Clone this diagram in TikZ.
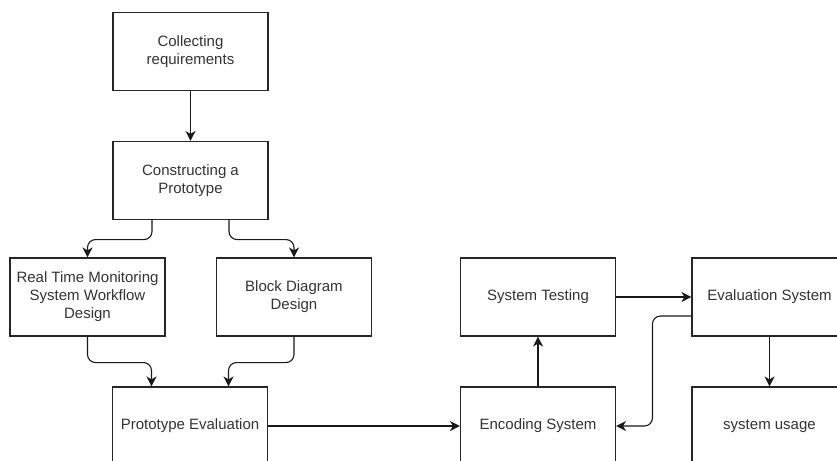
\documentclass[tikz,border=0pt]{standalone}
\usepackage{fontspec}
\setmainfont{Liberation Sans}
\usetikzlibrary{arrows.meta}
\begin{document}
\begin{tikzpicture}[x=1pt,y=-1pt,
  box/.style={draw=black!85,line width=1.1pt,rectangle,minimum width=155pt,minimum height=78pt,
    align=center,text=black!80,font=\fontsize{15}{18}\selectfont,inner sep=2pt},
  arr/.style={draw=black!90,line width=1.1pt,-{Stealth[length=10pt,width=10pt,inset=3pt]}},
  rc/.style={rounded corners=8pt}]
\useasboundingbox (0,0) rectangle (837,460);
\clip (0,0) rectangle (837,460);
\fill[white] (0,0) rectangle (837,460);
\node[box] (coll) at (190.5,51.5) {Collecting\\requirements};
\node[box] (cons) at (190.5,180.5) {Constructing a\\Prototype};
\node[box] (rt) at (87.5,297) {Real Time Monitoring\\System Workflow\\Design};
\node[box] (bd) at (294,297) {Block Diagram\\Design};
\node[box] (pe) at (190,426) {Prototype Evaluation};
\node[box] (st) at (538,297) {System Testing};
\node[box] (es) at (769.5,297) {Evaluation System};
\node[box] (enc) at (538,426) {Encoding System};
\node[box] (su) at (769.5,426) {system usage};

\draw[arr] (coll) -- (cons);
\draw[arr,rc] ([xshift=-38.5pt]cons.south) -- ++(0,19.5) -| (rt.north);
\draw[arr,rc] ([xshift=38.5pt]cons.south) -- ++(0,19.5) -| (bd.north);
\draw[arr,rc] (rt.south) -- ++(0,26) -| ([xshift=-38.5pt]pe.north);
\draw[arr,rc] (bd.south) -- ++(0,26) -| ([xshift=38.5pt]pe.north);
\draw[arr] (pe.east) -- (enc.west);
\draw[arr] (enc.north) -- (st.south);
\draw[arr] (st.east) -- (es.west);
\draw[arr,rc] ([yshift=-19pt]es.west) -- ++(-39,0) |- (enc.east);
\draw[arr] (es.south) -- (su.north);
\end{tikzpicture}
\end{document}
